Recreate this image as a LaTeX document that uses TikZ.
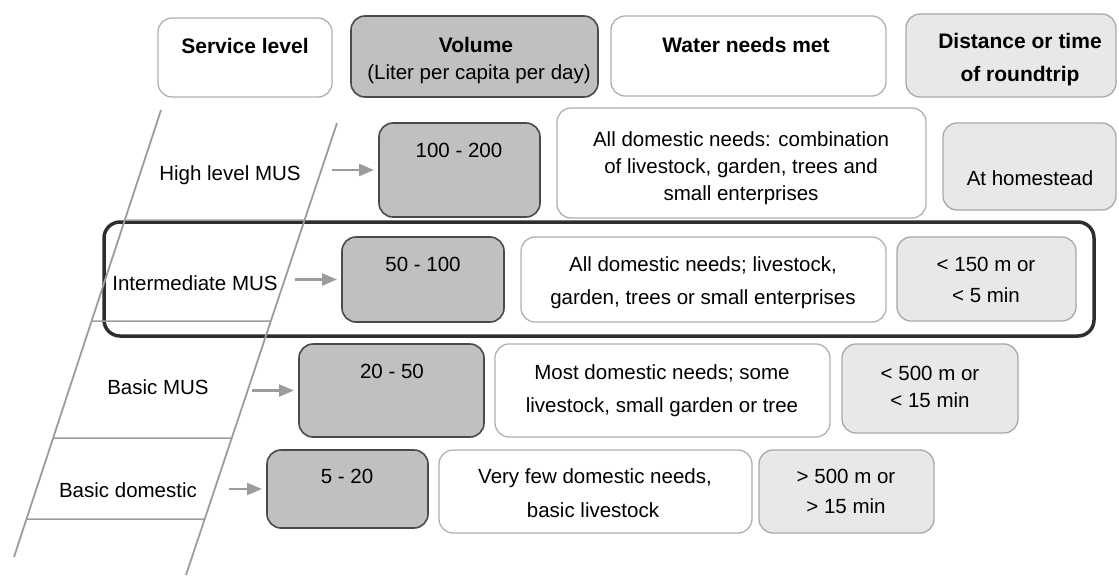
\documentclass[tikz,border=0pt]{standalone}
\usepackage{fontspec}
\setmainfont{Liberation Sans}
\usetikzlibrary{arrows.meta,calc}

\definecolor{railgray}{HTML}{9C9C9C}
\definecolor{edgegray}{HTML}{B0B0B0}
\definecolor{volfill}{HTML}{C0C0C0}
\definecolor{voledge}{HTML}{4A4A4A}
\definecolor{distfill}{HTML}{E8E8E8}
\definecolor{distedge}{HTML}{A8A8A8}
\definecolor{framecol}{HTML}{2E2E2E}

\tikzset{
  every node/.style={inner sep=0pt, outer sep=0pt},
  plainbox/.style={draw=edgegray, fill=white, line width=1.3pt, rounded corners=14pt},
  volbox/.style={draw=voledge, fill=volfill, line width=1.6pt, rounded corners=14pt},
  distbox/.style={draw=distedge, fill=distfill, line width=1.3pt, rounded corners=14pt},
  focusbox/.style={draw=framecol, line width=3.5pt, rounded corners=16pt},
  hdr/.style={anchor=base, font=\fontsize{21}{25}\selectfont\bfseries},
  lbl/.style={anchor=base, font=\fontsize{20.5}{25}\selectfont},
  rail/.style={draw=railgray, line width=1.8pt},
  feed/.style={draw=railgray, line width=2.6pt, -{Triangle[length=15pt,width=12pt]}, shorten >=5pt},
}

% box given by its left, top, right and bottom edges
\newcommand\drawbox[6]{\node[#1, minimum width={#4-#2}, minimum height={#5-#3}] (#6) at ({(#2+#4)/2},{(#3+#5)/2}) {};}

\begin{document}
\begin{tikzpicture}[x=1pt,y=-1pt]
\useasboundingbox (0,0) rectangle (1119,576);

% highlighted row
\drawbox{focusbox}{104}{222}{1094}{336}{hl}

% ladder of service levels
\coordinate (Ltop) at (161,110); \coordinate (Lbot) at (14,557);
\coordinate (Rtop) at (337,123); \coordinate (Rbot) at (186,575);
\draw[rail] (Ltop) -- (Lbot);
\draw[rail] (Rtop) -- (Rbot);
\foreach \y in {220,321,438,519}
  \draw[rail, line width=1.5pt] ($(Ltop)!{(\y-110)/447}!(Lbot)$) -- ($(Rtop)!{(\y-123)/452}!(Rbot)$);

% column headers
\drawbox{plainbox}{158}{18}{332}{97}{H1}
\drawbox{volbox}{351}{16}{598}{97}{H2}
\drawbox{plainbox}{611}{16}{886}{96}{H3}
\drawbox{distbox}{906}{14}{1116}{97}{H4}
\node[hdr] (h1) at (245,53) {Service level};
\node[hdr] (h2) at (476,52) {Volume};
\node[lbl] (h2b) at (479,79) {(Liter per capita per day)};
\node[hdr] (h3) at (746,52) {Water needs met};
\node[hdr] (h4a) at (1020,48) {Distance or time};
\node[hdr] (h4b) at (1020,81) {of roundtrip};

% level names
\node[lbl] (s1) at (230,180) {High level MUS};
\node[lbl] (s2) at (195,290) {Intermediate MUS};
\node[lbl] (s3) at (158,394) {Basic MUS};
\node[lbl] (s4) at (128,497) {Basic domestic};

% high level MUS
\drawbox{volbox}{379}{123}{540}{217}{v1}
\drawbox{plainbox}{557}{108}{926}{218}{w1}
\drawbox{distbox}{943}{123}{1116}{210}{d1}
\node[lbl] (n1) at (459,157) {100 - 200};
\node[lbl] (w1a) at (741,146) {All domestic needs: combination};
\node[lbl] (w1b) at (741,173) {of livestock, garden, trees and};
\node[lbl] (w1c) at (741,200) {small enterprises};
\node[lbl] (d1a) at (1030,185) {At homestead};

% intermediate MUS
\drawbox{volbox}{342}{237}{504}{322}{v2}
\drawbox{plainbox}{521}{237}{886}{322}{w2}
\drawbox{distbox}{897}{237}{1076}{321}{d2}
\node[lbl] (n2) at (423,271) {50 - 100};
\node[lbl] (w2a) at (703,271) {All domestic needs; livestock,};
\node[lbl] (w2b) at (703,304) {garden, trees or small enterprises};
\node[lbl] (d2a) at (986,271) {< 150 m or};
\node[lbl] (d2b) at (986,302) {< 5 min};

% basic MUS
\drawbox{volbox}{299}{344}{484}{437}{v3}
\drawbox{plainbox}{495}{344}{830}{437}{w3}
\drawbox{distbox}{842}{344}{1018}{433}{d3}
\node[lbl] (n3) at (392,378) {20 - 50};
\node[lbl] (w3a) at (662,379) {Most domestic needs; some};
\node[lbl] (w3b) at (662,412) {livestock, small garden or tree};
\node[lbl] (d3a) at (930,380) {< 500 m or};
\node[lbl] (d3b) at (930,407) {< 15 min};

% basic domestic
\drawbox{volbox}{267}{450}{428}{528}{v4}
\drawbox{plainbox}{439}{450}{752}{533}{w4}
\drawbox{distbox}{759}{450}{934}{533}{d4}
\node[lbl] (n4) at (347,483) {5 - 20};
\node[lbl] (w4a) at (595,483) {Very few domestic needs,};
\node[lbl] (w4b) at (593,517) {basic livestock};
\node[lbl] (d4a) at (846,483) {> 500 m or};
\node[lbl] (d4b) at (846,513) {> 15 min};

% arrows from the ladder to the volumes
\coordinate (a1) at (332,170);
\coordinate (a2) at (295,279.5);
\coordinate (a3) at (252,390.5);
\coordinate (a4) at (229,489);
\draw[feed] (a1) -- (a1 -| v1.west);
\draw[feed] (a2) -- (a2 -| v2.west);
\draw[feed] (a3) -- (a3 -| v3.west);
\draw[feed] (a4) -- (a4 -| v4.west);
\end{tikzpicture}
\end{document}
